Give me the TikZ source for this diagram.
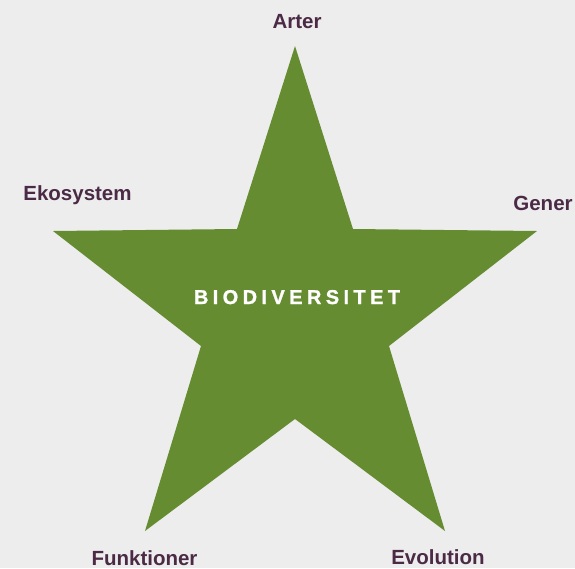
\documentclass[tikz,border=0pt]{standalone}
\usepackage{fontspec}
\setmainfont{Liberation Sans}
\newfontfamily\trackfont[LetterSpace=22, FakeBold=1.2]{Liberation Sans Bold}
\usepackage{tikz}
\definecolor{bggray}{RGB}{237,237,237}
\definecolor{stargreen}{RGB}{101,140,48}
\definecolor{labelplum}{RGB}{75,42,69}

\begin{document}
\begin{tikzpicture}[x=1pt, y=-1pt,
  cornerlabel/.style={font=\fontsize{20.5}{24}\selectfont\bfseries, text=labelplum, inner sep=0pt, anchor=base}]
  % Background
  \fill[bggray] (0,0) rectangle (575,568);
  \useasboundingbox (0,0) rectangle (575,568);

  % Star points
  \coordinate (tipT) at (295,46);
  \coordinate (tipR) at (537,231);
  \coordinate (tipBR) at (445,531);
  \coordinate (tipBL) at (145,531);
  \coordinate (tipL) at (53,231);
  \coordinate (notchTR) at (353,229);
  \coordinate (notchR) at (389,346);
  \coordinate (notchB) at (295,419);
  \coordinate (notchL) at (201,346);
  \coordinate (notchTL) at (237,229);
  \fill[stargreen] (tipT) -- (notchTR) -- (tipR) -- (notchR) -- (tipBR) -- (notchB)
    -- (tipBL) -- (notchL) -- (tipL) -- (notchTL) -- cycle;

  % Title
  \node[font=\fontsize{20}{24}\selectfont\trackfont, text=white, inner sep=0pt, anchor=base]
    (title) at (297,304) {BIODIVERSITET};

  % Labels
  \foreach \x/\y/\name/\lab in {
    297/28/arter/Arter,
    77.5/200/ekosystem/Ekosystem,
    543/210/gener/Gener,
    144.5/565/funktioner/Funktioner,
    438/564/evolution/Evolution%
  }{
    \node[cornerlabel] (\name) at (\x,\y) {\lab};
  }
\end{tikzpicture}
\end{document}
